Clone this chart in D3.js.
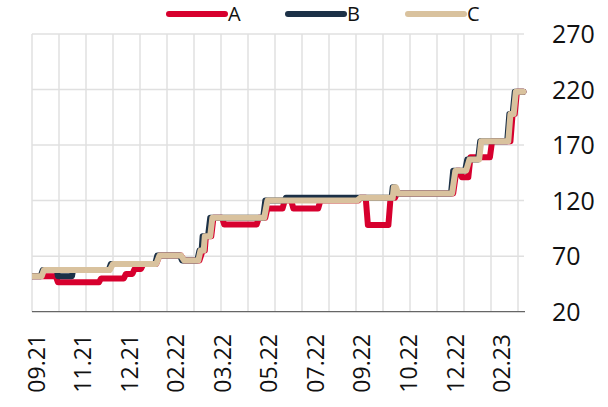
<!DOCTYPE html>
<html>
<head>
<meta charset="utf-8">
<script src="https://cdn.jsdelivr.net/npm/d3@7"></script>
<style>
  body { margin: 0; background: #fff; }
  svg { font-family: "Open Sans", sans-serif; display: block; }
</style>
</head>
<body>
<div id="chart"></div>
<script>
// x labels sit every 43 steps, starting at step 4
const xLabels = ["09.21", "11.21", "12.21", "02.22", "03.22", "05.22", "07.22", "09.22", "10.22", "12.22", "02.23"];
const yTicks = [20, 70, 120, 170, 220, 270];
const seriesNames = ["A", "B", "C"];
const seriesColors = ["#d7002e", "#1c3147", "#d9c29e"];

// [step, value] points
const seriesA = [
  [0, 52], [22, 52], [24, 46.5], [62, 46.5], [64, 50], [85, 50], [87, 54], [93, 54],
  [95, 58.5], [101, 58.5], [103, 63], [115, 63], [118, 70.5], [138, 70.5], [141, 66],
  [155, 66], [158, 75], [160, 75], [161, 88], [166, 88], [168, 104.5], [176, 104.5],
  [178, 98.5], [208, 98.5], [210, 104.5], [216, 104.5], [218, 113], [232, 113], [234, 120],
  [240, 120], [242, 113], [265, 113], [267, 120], [302, 120], [304, 122.5], [309, 122.5],
  [311, 98], [330, 98], [332, 122.5], [336, 122.5], [338, 126.5], [390, 126.5], [393, 147],
  [396, 147], [398, 141], [404, 141], [406, 159], [424, 159], [426, 173.5], [443, 173.5],
  [445, 198], [447, 198], [449, 218], [455, 218]
];
const seriesB = [
  [0, 52], [8, 52], [10, 57.5], [23, 57.5], [24, 52], [37, 52], [38, 57.5], [71, 57.5],
  [73, 63], [114, 63], [116, 70.5], [137, 70.5], [139, 66], [153, 66], [155, 75], [157, 75],
  [158, 88], [163, 88], [165, 104.5], [214, 104.5], [216, 120], [234, 120], [235, 122.5],
  [333, 122.5], [334, 132], [336, 132], [338, 126.5], [388, 126.5], [390, 147], [401, 147],
  [403, 157], [413, 157], [415, 173.5], [440, 173.5], [442, 198], [445, 198], [447, 218],
  [455, 218]
];
const seriesC = [
  [0, 52], [9, 52], [11, 57.5], [72, 57.5], [75, 63], [115, 63], [118, 70.5], [138, 70.5],
  [141, 66], [154, 66], [156, 75], [159, 75], [160, 88], [165, 88], [167, 104.5], [215, 104.5],
  [218, 120], [301, 120], [304, 122.5], [334, 122.5], [335, 132], [337, 132], [339, 126.5],
  [389, 126.5], [392, 147], [402, 147], [405, 157], [414, 157], [416, 173.5], [441, 173.5],
  [443, 198], [446, 198], [448, 218], [455, 218]
];

const width = 608;
const height = 407;
const plotLeft = 32;
const plotTop = 34;
const plotBottom = 311.7;
const lastStep = 455;

const svg = d3.select("#chart")
  .append("svg")
    .attr("width", width)
    .attr("height", height);

const x = d3.scaleLinear()
  .domain([0, lastStep])
  .range([plotLeft, plotLeft + lastStep * 1.08]);
const y = d3.scaleLinear()
  .domain([20, 270])
  .range([plotBottom, plotTop]);

// grid
svg.append("g")
  .selectAll("line")
  .data(d3.range(0, 451, 25))
  .enter()
  .append("line")
    .attr("x1", d => x(d))
    .attr("x2", d => x(d))
    .attr("y1", plotTop)
    .attr("y2", plotBottom)
    .attr("stroke", "#e0e0e0")
    .attr("stroke-width", 1.5);

svg.append("g")
  .selectAll("line")
  .data(yTicks.slice(1))
  .enter()
  .append("line")
    .attr("x1", plotLeft)
    .attr("x2", 524)
    .attr("y1", d => y(d))
    .attr("y2", d => y(d))
    .attr("stroke", "#e0e0e0")
    .attr("stroke-width", 1.5);

// bottom axis line
svg.append("line")
  .attr("x1", plotLeft)
  .attr("x2", 525)
  .attr("y1", y(20))
  .attr("y2", y(20))
  .attr("stroke", "#666")
  .attr("stroke-width", 1.2);

// y labels on the right
svg.append("g")
  .selectAll("text")
  .data(yTicks)
  .enter()
  .append("text")
    .attr("x", 552)
    .attr("y", d => y(d))
    .attr("dy", "0.36em")
    .attr("font-size", 25)
    .attr("fill", "#111")
    .text(d => d);

// x labels, rotated
svg.append("g")
  .selectAll("text")
  .data(xLabels)
  .enter()
  .append("text")
    .attr("transform", (d, i) => `translate(${x(4 + i * 43.1)}, 334) rotate(-90)`)
    .attr("text-anchor", "end")
    .attr("dy", "0.36em")
    .attr("font-size", 23)
    .attr("fill", "#111")
    .text(d => d);

// lines
svg.append("defs").append("clipPath")
  .attr("id", "plotClip")
  .append("rect")
    .attr("x", plotLeft)
    .attr("y", 0)
    .attr("width", 540)
    .attr("height", height);

const line = d3.line()
  .x(d => x(d[0]))
  .y(d => y(d[1]));

svg.append("g")
  .attr("clip-path", "url(#plotClip)")
  .selectAll("path")
  .data([seriesA, seriesB, seriesC])
  .enter()
  .append("path")
    .attr("d", line)
    .attr("fill", "none")
    .attr("stroke", (d, i) => seriesColors[i])
    .attr("stroke-width", 6)
    .attr("stroke-linejoin", "round")
    .attr("stroke-linecap", "round");

// legend
const legendX = [169, 288, 408];
const legend = svg.append("g")
  .selectAll("g")
  .data(seriesNames)
  .enter()
  .append("g")
    .attr("transform", (d, i) => `translate(${legendX[i]}, 14)`);
legend.append("line")
  .attr("x1", 0)
  .attr("x2", 56)
  .attr("stroke", (d, i) => seriesColors[i])
  .attr("stroke-width", 6)
  .attr("stroke-linecap", "round");
legend.append("text")
  .attr("x", 59)
  .attr("dy", "0.36em")
  .attr("font-size", 20)
  .attr("fill", "#111")
  .text(d => d);
</script>
</body>
</html>
